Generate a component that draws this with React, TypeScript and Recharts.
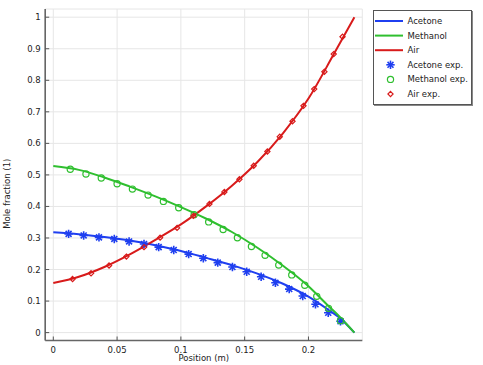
import React from 'react';
import { ComposedChart, Line, Scatter, XAxis, YAxis, CartesianGrid } from 'recharts';

// Model curves
const lineX = [0, 0.02, 0.04, 0.06, 0.08, 0.1, 0.12, 0.14, 0.16, 0.18, 0.2, 0.215, 0.225, 0.236];
const acetoneLineY = [0.318, 0.312, 0.303, 0.292, 0.277, 0.259, 0.237, 0.214, 0.187, 0.155, 0.114, 0.074, 0.045, 0];
const methanolLineY = [0.528, 0.516, 0.492, 0.463, 0.432, 0.398, 0.361, 0.319, 0.269, 0.212, 0.147, 0.087, 0.048, 0];
const airLineX = [0, 0.02, 0.04, 0.06, 0.08, 0.1, 0.12, 0.14, 0.16, 0.18, 0.2, 0.22, 0.236];
const airLineY = [0.157, 0.177, 0.208, 0.248, 0.294, 0.343, 0.401, 0.466, 0.541, 0.632, 0.742, 0.884, 1.0];

// Experimental points
const acetoneExpX = [0.012, 0.0238, 0.0358, 0.0478, 0.0594, 0.0711, 0.0826, 0.0944, 0.1061, 0.1176, 0.1289, 0.1404, 0.1516, 0.1629, 0.1741, 0.1849, 0.1955, 0.2055, 0.2155, 0.2251];
const acetoneExpY = [0.313, 0.308, 0.302, 0.297, 0.289, 0.281, 0.271, 0.262, 0.249, 0.236, 0.222, 0.208, 0.193, 0.177, 0.158, 0.138, 0.116, 0.09, 0.063, 0.036];
const methanolExpX = [0.0133, 0.0256, 0.0376, 0.05, 0.062, 0.0743, 0.0863, 0.0983, 0.1104, 0.1218, 0.1331, 0.1443, 0.1553, 0.166, 0.1767, 0.1869, 0.1971, 0.2065, 0.2157, 0.2251];
const methanolExpY = [0.518, 0.503, 0.49, 0.472, 0.455, 0.436, 0.416, 0.396, 0.374, 0.351, 0.327, 0.301, 0.273, 0.245, 0.214, 0.183, 0.15, 0.115, 0.077, 0.038];
const airExpX = [0.0151, 0.0296, 0.0437, 0.0573, 0.0711, 0.0837, 0.097, 0.1098, 0.1224, 0.1341, 0.1459, 0.1571, 0.1678, 0.1775, 0.1875, 0.1961, 0.2045, 0.2125, 0.2198, 0.2267];
const airExpY = [0.17, 0.188, 0.213, 0.241, 0.271, 0.301, 0.332, 0.37, 0.408, 0.446, 0.486, 0.529, 0.574, 0.621, 0.67, 0.719, 0.772, 0.827, 0.883, 0.938];

const xTicks = [0, 0.05, 0.1, 0.15, 0.2];
const yTicks = [0, 0.1, 0.2, 0.3, 0.4, 0.5, 0.6, 0.7, 0.8, 0.9, 1];
const xDomain = [-0.00635, 0.2422];
const yDomain = [-0.025, 1.026];

const legendLabels = ['Acetone', 'Methanol', 'Air', 'Acetone exp.', 'Methanol exp.', 'Air exp.'];

const BLUE = '#1f3ff0';
const GREEN = '#2fbf2f';
const RED = '#d81b1b';
const FONT = '"DejaVu Sans", sans-serif';
const FS = 8.5;

const toPts = (xs: number[], ys: number[]) => xs.map((x, i) => ({ x, y: ys[i] }));

const AsteriskMark = ({ cx, cy, color, r = 4.2 }: any) => {
  const d = r * 0.7071;
  return (
    <g stroke={color} strokeWidth={1.6} strokeLinecap="butt">
      <line x1={cx - r} y1={cy} x2={cx + r} y2={cy} />
      <line x1={cx} y1={cy - r} x2={cx} y2={cy + r} />
      <line x1={cx - d} y1={cy - d} x2={cx + d} y2={cy + d} />
      <line x1={cx - d} y1={cy + d} x2={cx + d} y2={cy - d} />
    </g>
  );
};
const CircleMark = ({ cx, cy, color }: any) => (
  <circle cx={cx} cy={cy} r={3.1} fill="none" stroke={color} strokeWidth={1.2} />
);
const DiamondMark = ({ cx, cy, color }: any) => {
  const s = 2.6;
  return (
    <path
      d={`M${cx},${cy - s}L${cx + s},${cy}L${cx},${cy + s}L${cx - s},${cy}Z`}
      fill="none"
      stroke={color}
      strokeWidth={1.2}
    />
  );
};

const starShape = (p: any) => (p.cx == null ? <g /> : <AsteriskMark cx={p.cx} cy={p.cy} color={BLUE} />);
const circleShape = (p: any) => (p.cx == null ? <g /> : <CircleMark cx={p.cx} cy={p.cy} color={GREEN} />);
const diamondShape = (p: any) => (p.cx == null ? <g /> : <DiamondMark cx={p.cx} cy={p.cy} color={RED} />);

const LegendBox = () => {
  const rowH = 14.6;
  const first = 11;
  const colors = [BLUE, GREEN, RED, BLUE, GREEN, RED];
  return (
    <div
      style={{
        position: 'absolute',
        left: 373,
        top: 10,
        width: 99,
        height: 95,
        boxSizing: 'border-box',
        border: '1px solid #555',
        boxShadow: '1px 1px 0 #888',
        background: '#fff',
      }}
    >
      <svg width={97} height={93} style={{ display: 'block' }}>
        {legendLabels.map((lab, i) => {
          const cy = first + i * rowH - 1;
          let mark;
          if (i < 3) mark = <line x1={1} y1={cy} x2={29} y2={cy} stroke={colors[i]} strokeWidth={2} />;
          else if (i === 3) mark = <AsteriskMark cx={16.5} cy={cy} color={BLUE} />;
          else if (i === 4) mark = <CircleMark cx={16.5} cy={cy} color={GREEN} />;
          else mark = <DiamondMark cx={16.5} cy={cy} color={RED} />;
          return (
            <g key={lab}>
              {mark}
              <text x={33.5} y={cy} dominantBaseline="central" fontFamily={FONT} fontSize={FS} fill="#222">
                {lab}
              </text>
            </g>
          );
        })}
      </svg>
    </div>
  );
};

const tickStyle = { fontFamily: FONT, fontSize: FS, fill: '#222' };

export default function App() {
  return (
    <div style={{ position: 'absolute', left: 0, top: 0, width: 483, height: 365, background: '#fff' }}>
      <ComposedChart width={483} height={365} margin={{ top: 9, right: 120.7, bottom: 0, left: 0 }}>
        <CartesianGrid stroke="#e6e6e6" strokeWidth={1} />
        <XAxis
          dataKey="x"
          type="number"
          domain={xDomain}
          ticks={xTicks}
          allowDataOverflow
          height={24.5}
          tickSize={-4}
          tickMargin={10}
          tick={tickStyle}
          axisLine={{ stroke: '#666', strokeWidth: 1.6 }}
          tickLine={{ stroke: '#555' }}
          label={{ value: 'Position (m)', position: 'insideBottom', offset: 4, style: { fontFamily: FONT, fontSize: FS, fill: '#222' } }}
        />
        <XAxis
          xAxisId="top"
          orientation="top"
          type="number"
          domain={xDomain}
          ticks={xTicks}
          allowDataOverflow
          height={0}
          tickSize={-4}
          tick={false}
          axisLine={{ stroke: '#444', strokeWidth: 1 }}
          tickLine={{ stroke: '#555' }}
        />
        <YAxis
          dataKey="y"
          type="number"
          domain={yDomain}
          ticks={yTicks}
          allowDataOverflow
          width={45.2}
          tickSize={-4}
          tickMargin={8.5}
          tick={tickStyle}
          axisLine={{ stroke: '#666', strokeWidth: 1.6 }}
          tickLine={{ stroke: '#555' }}
          label={{
            content: (props: any) => {
              const vb = props.viewBox || { x: 0, y: 9, width: 45, height: 331.5 };
              const cx = vb.x + 6.5;
              const cy = vb.y + vb.height / 2 + 19;
              return (
                <text
                  x={cx}
                  y={cy}
                  transform={`rotate(-90 ${cx} ${cy})`}
                  textAnchor="middle"
                  dominantBaseline="central"
                  fontFamily={FONT}
                  fontSize={FS}
                  fill="#222"
                >
                  Mole fraction (1)
                </text>
              );
            },
          }}
        />
        <YAxis
          yAxisId="right"
          orientation="right"
          type="number"
          domain={yDomain}
          ticks={yTicks}
          allowDataOverflow
          width={0}
          tickSize={-4}
          tick={false}
          axisLine={{ stroke: '#444', strokeWidth: 1 }}
          tickLine={{ stroke: '#555' }}
        />
        <Line data={toPts(lineX, acetoneLineY)} dataKey="y" type="monotone" stroke={BLUE} strokeWidth={2} dot={false} isAnimationActive={false} />
        <Line data={toPts(lineX, methanolLineY)} dataKey="y" type="monotone" stroke={GREEN} strokeWidth={2} dot={false} isAnimationActive={false} />
        <Line data={toPts(airLineX, airLineY)} dataKey="y" type="monotone" stroke={RED} strokeWidth={2} dot={false} isAnimationActive={false} />
        <Scatter data={toPts(acetoneExpX, acetoneExpY)} dataKey="y" shape={starShape} isAnimationActive={false} />
        <Scatter data={toPts(methanolExpX, methanolExpY)} dataKey="y" shape={circleShape} isAnimationActive={false} />
        <Scatter data={toPts(airExpX, airExpY)} dataKey="y" shape={diamondShape} isAnimationActive={false} />
      </ComposedChart>
      <LegendBox />
    </div>
  );
}
